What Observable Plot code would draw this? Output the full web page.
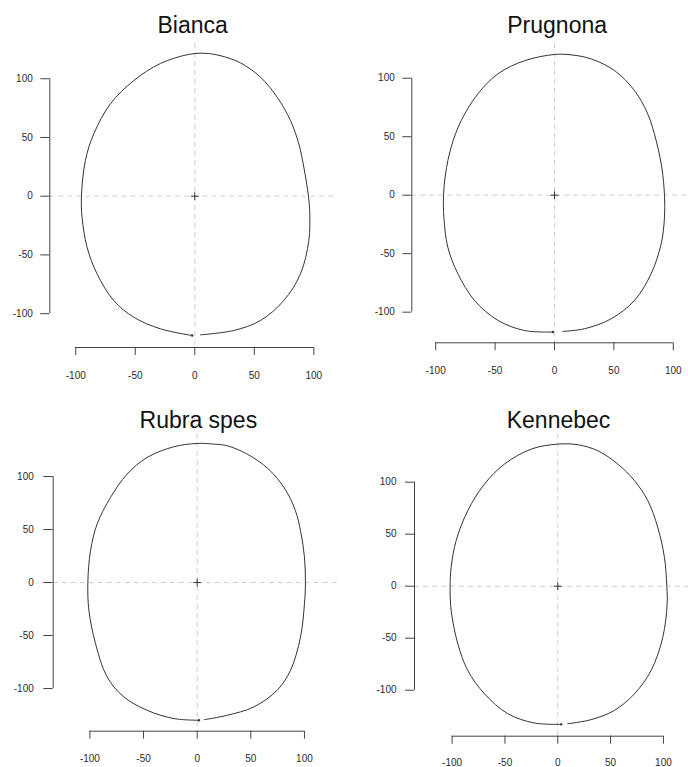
<!DOCTYPE html>
<html>
<head>
<meta charset="utf-8">
<script src="https://cdn.jsdelivr.net/npm/d3@7"></script>
<script src="https://cdn.jsdelivr.net/npm/@observablehq/plot@0.6"></script>
<style>
html, body { margin: 0; padding: 0; background: #fff; }
#chart { position: relative; width: 688px; height: 767px; overflow: hidden; background: #fff; }
.panel { position: absolute; }
</style>
</head>
<body>
<div id="chart"></div>
<script>
// ---- data ----
const panelTitles = ["Bianca", "Prugnona", "Rubra spes", "Kennebec"];
const xTicks = [-100, -50, 0, 50, 100];
const yTicks = [-100, -50, 0, 50, 100];

// outlines: start right of the bottom gap, run counter-clockwise, end left of the gap
const biancaX = [4.8, 32.8, 55.2, 74.8, 88.8, 95.8, 96.6, 95.5, 91.6, 87.4, 80.4, 69.2, 55.2, 38.4, 22, 8, -6, -28.9, -51.3, -70.9, -84.9, -91.9, -95.2, -94.7, -90.5, -82.1, -68.1, -51.3, -28.9, -2.2];
const biancaY = [-118, -114.3, -105.8, -88.8, -66.1, -37.7, -15, 0, 24.7, 44.5, 64.4, 84.3, 101.3, 113.5, 119.5, 121.7, 120.5, 113, 98.4, 78.6, 53, 30.4, 0, -17.9, -43.4, -66.1, -88.8, -103, -112.9, -118.6];

const prugnonaX = [7, 25.2, 47.7, 67.3, 81.3, 89.8, 92.6, 92.6, 90.3, 85.6, 78.5, 67.3, 50.5, 30.9, 14, 0, -25.2, -47.7, -64.5, -78.5, -87, -91.7, -93.4, -93.1, -89.8, -81.3, -67.3, -47.7, -25.2, -1.4];
const prugnonaY = [-116.5, -114.2, -105.7, -90, -67.2, -41.6, -18.8, 0, 23.9, 46.7, 69.5, 89.5, 106.6, 116.5, 120, 120.3, 115, 103.7, 86.6, 63.8, 41, 18.2, 0, -18.8, -44.4, -67.2, -90, -107, -115.7, -117];

const rubraX = [6.8, 28, 52.8, 74.5, 87, 96.3, 100, 100.9, 100, 96.5, 91.5, 82, 66.5, 46.6, 28, 15.5, 0, -21.7, -46.6, -65.2, -80.7, -93.2, -99.4, -101.9, -100.9, -94.7, -83.9, -68.3, -46.6, -21.7, 1.6];
const rubraY = [-129.4, -125.3, -117.4, -101.7, -82.9, -51.5, -20.1, 0, 23.9, 48, 68, 88, 107, 121.2, 129, 130.6, 131.2, 128.1, 118, 102.4, 80.4, 55.3, 30.1, 0, -26.4, -57.8, -89.2, -108, -120.6, -128.4, -130];

const kennebecX = [9.5, 31.5, 53.6, 72.6, 88.3, 99.4, 103.5, 103.2, 100.9, 94.6, 85.2, 72.6, 56.8, 37.9, 18.9, 0, -25.2, -50.5, -69.4, -85.2, -96.2, -100.9, -101.9, -100.9, -94.6, -85.2, -69.4, -47.3, -22.1, 3.2];
const kennebecY = [-132.2, -128.3, -119.4, -103.4, -81, -49, -17, 0, 27.8, 56.6, 82.2, 101.4, 117.4, 130.2, 136, 136.6, 131.8, 117.4, 98.2, 72.6, 43.8, 18.2, 0, -23.4, -55.4, -81, -103.4, -122.6, -131.5, -132.8];

const outlinesX = [biancaX, prugnonaX, rubraX, kennebecX];
const outlinesY = [biancaY, prugnonaY, rubraY, kennebecY];

// ---- layout (per panel) ----
const layouts = [
  {left: 0,   top: 0,   width: 344, height: 383, mL: 49.3, mR: 7, mT: 43, mB: 36,   xd: [-121.8, 119.9], yd: [-128.8, 130],   tdx: -1, tdy: -18, padX: 16, padY: 8,  tsY: 9},
  {left: 344, top: 0,   width: 344, height: 383, mL: 67.3, mR: 0, mT: 43, mB: 40.7, xd: [-120.1, 112.8], yd: [-126.2, 129.7], tdx: 7,  tdy: -18, padX: 16, padY: 8,  tsY: 9},
  {left: 0,   top: 383, width: 344, height: 384, mL: 52.7, mR: 7, mT: 50, mB: 36.3, xd: [-134.2, 130.8], yd: [-140.3, 140.6], tdx: 3,  tdy: -13, padX: 16, padY: 10, tsY: 9.4},
  {left: 344, top: 383, width: 344, height: 384, mL: 70,   mR: 0, mT: 50, mB: 31.3, xd: [-135.6, 123.7], yd: [-144.2, 146.8], tdx: 7,  tdy: -13, padX: 15, padY: 9,  tsY: 9}
];

const fmt = d => String(d);
const chart = document.getElementById("chart");

panelTitles.forEach((title, i) => {
  const L = layouts[i];
  const pts = outlinesX[i].map((x, k) => ({x, y: outlinesY[i][k]}));
  const last = pts[pts.length - 1];
  const plot = Plot.plot({
    width: L.width,
    height: L.height,
    marginLeft: L.mL,
    marginRight: L.mR,
    marginTop: L.mT,
    marginBottom: L.mB,
    x: {domain: L.xd},
    y: {domain: L.yd},
    style: {fontFamily: "Liberation Sans, Arial, sans-serif", fontSize: "10px", color: "#2a2a2a", background: "transparent", overflow: "visible"},
    marks: [
      Plot.ruleY([0], {stroke: "#cfcfcf", strokeDasharray: "5,4", strokeWidth: 1}),
      Plot.ruleX([0], {stroke: "#cfcfcf", strokeDasharray: "5,4", strokeWidth: 1}),
      Plot.line(pts, {x: "x", y: "y", curve: "catmull-rom", stroke: "#333", strokeWidth: 1}),
      Plot.dot([last], {x: "x", y: "y", r: 1.2, fill: "#333", stroke: "none"}),
      Plot.dot([{x: 0, y: 0}], {x: "x", y: "y", symbol: "plus", r: 2.6, stroke: "#333", strokeWidth: 1}),
      Plot.ruleY([L.yd[0]], {x1: xTicks[0], x2: xTicks[xTicks.length - 1], stroke: "#444"}),
      Plot.ruleX([L.xd[0]], {y1: yTicks[0], y2: yTicks[yTicks.length - 1], stroke: "#444"}),
      Plot.axisX({anchor: "bottom", ticks: xTicks, tickSize: 8, tickPadding: L.padX, tickFormat: fmt, label: null, stroke: "#444", fontSize: 10}),
      Plot.axisY({anchor: "left", ticks: yTicks, tickSize: L.tsY, tickPadding: L.padY, tickFormat: fmt, label: null, stroke: "#444", fontSize: 10}),
      Plot.text([title], {frameAnchor: "top", dx: L.tdx, dy: L.tdy, lineAnchor: "middle", fontSize: 23, fill: "#111"})
    ]
  });
  const wrap = document.createElement("div");
  wrap.className = "panel";
  wrap.style.left = L.left + "px";
  wrap.style.top = L.top + "px";
  wrap.appendChild(plot);
  chart.appendChild(wrap);
});
</script>
</body>
</html>
